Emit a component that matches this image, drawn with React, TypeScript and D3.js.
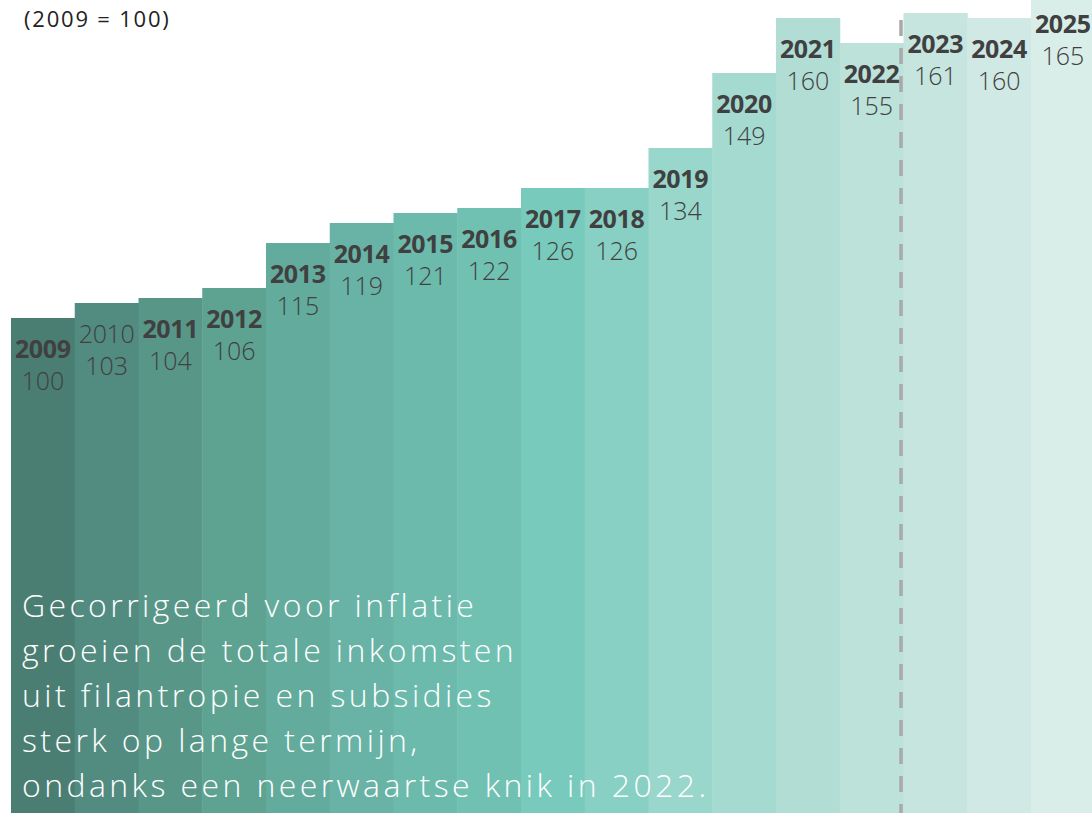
import React from "react";
import * as d3 from "d3";

const years = ["2009","2010","2011","2012","2013","2014","2015","2016","2017","2018","2019","2020","2021","2022","2023","2024","2025"];
const values = [100,103,104,106,115,119,121,122,126,126,134,149,160,155,161,160,165];
const boldYear = [true,false,true,true,true,true,true,true,true,true,true,true,true,true,true,true,true];
const colors = ["#4b7e73","#528b7f","#589788","#5ea391","#63ab9c","#68b3a5","#6cbaac","#71c1b2","#78cabc","#88d0c3","#99d6cb","#a5dad1","#b1ddd5","#bce2da","#c6e5df","#d0e9e4","#d9eee9"];
const subtitle = "(2009 = 100)";
const noteLines = [
  "Gecorrigeerd voor inflatie",
  "groeien de totale inkomsten",
  "uit filantropie en subsidies",
  "sterk op lange termijn,",
  "ondanks een neerwaartse knik in 2022."
];
const forecastStart = "2023";

const W = 1092, H = 813;

export default function App() {
  const x = d3.scaleBand<string>().domain(years).range([11, 11 + 17 * 63.75]).padding(0);
  const y = d3.scaleLinear().domain([0, 163.6]).range([818, 0]);
  const font = "'Open Sans', 'Noto Sans', sans-serif";
  const dashX = (x(forecastStart) as number) - 2.5;
  return (
    <div style={{ position: "fixed", left: 0, top: 0 }}>
      <svg width={W} height={H} style={{ display: "block", background: "#fff" }}>
        {years.map((yr, i) => (
          <rect key={yr} x={x(yr)} y={y(values[i])} width={x.bandwidth() + 0.5} height={H - y(values[i])} fill={colors[i]} />
        ))}
        <line x1={dashX} x2={dashX} y1={20} y2={H} stroke="#a9a9a9" strokeWidth={3.5} strokeDasharray="16 12" />
        {years.map((yr, i) => {
          const cx = (x(yr) as number) + x.bandwidth() / 2;
          const top = y(values[i]);
          return (
            <g key={"l" + yr} fontFamily={font} fill="#404040" textAnchor="middle">
              <text x={cx} y={top + 40} fontSize={25} fontWeight={boldYear[i] ? 700 : 300} letterSpacing={-0.3}>{yr}</text>
              <text x={cx} y={top + 72} fontSize={25} fontWeight={300}>{values[i]}</text>
            </g>
          );
        })}
        <text x={24} y={27} fontFamily={font} fontSize={22} letterSpacing={1.8} fill="#222">{subtitle}</text>
        <g fontFamily={font} fontSize={32} fontWeight={300} fill="#fff" letterSpacing={3.4}>
          {noteLines.map((l, i) => (
            <text key={i} x={22} y={617 + i * 45}>{l}</text>
          ))}
        </g>
      </svg>
    </div>
  );
}
